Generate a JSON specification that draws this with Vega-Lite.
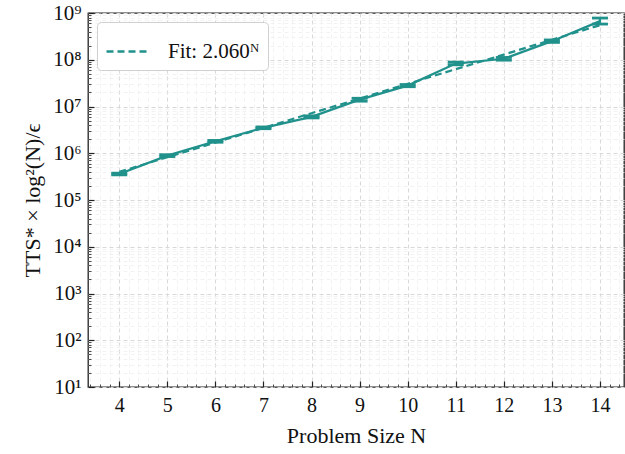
{
  "$schema": "https://vega.github.io/schema/vega-lite/v6.json",
  "autosize": "none",
  "width": 536,
  "height": 374,
  "padding": {"left": 88, "top": 13, "right": 1, "bottom": 67},
  "background": "white",
  "config": {
    "font": "Liberation Serif",
    "view": {"stroke": "#222", "strokeWidth": 1.3},
    "legend": {
      "orient": "top-left",
      "offset": 9,
      "fillColor": "white",
      "strokeColor": "#d0d0d0",
      "cornerRadius": 4,
      "padding": 8,
      "labelFont": "Liberation Serif",
      "labelFontSize": 21,
      "labelColor": "#111",
      "symbolType": "stroke",
      "symbolDash": [7, 4],
      "symbolStrokeWidth": 2.5,
      "symbolSize": 1600,
      "labelOffset": 20
    }
  },
  "data": {
    "values": [
      {"N": 4, "v": 360000, "lo": 345000, "hi": 375000, "fit": 399000},
      {"N": 5, "v": 890000, "lo": 850000, "hi": 930000, "fit": 822000},
      {"N": 6, "v": 1800000, "lo": 1720000, "hi": 1880000, "fit": 1690000},
      {"N": 7, "v": 3500000, "lo": 3350000, "hi": 3650000, "fit": 3490000},
      {"N": 8, "v": 6000000, "lo": 5700000, "hi": 6300000, "fit": 7180000},
      {"N": 9, "v": 14000000, "lo": 13000000, "hi": 15000000, "fit": 14800000},
      {"N": 10, "v": 28000000, "lo": 26500000, "hi": 29500000, "fit": 30500000},
      {"N": 11, "v": 83000000, "lo": 78000000, "hi": 89000000, "fit": 62800000},
      {"N": 12, "v": 105000000, "lo": 98000000, "hi": 112000000, "fit": 129000000},
      {"N": 13, "v": 250000000, "lo": 235000000, "hi": 265000000, "fit": 267000000},
      {"N": 14, "v": 670000000, "lo": 580000000, "hi": 780000000, "fit": 549000000}
    ]
  },
  "encoding": {
    "x": {
      "field": "N",
      "type": "quantitative",
      "scale": {"domain": [3.35, 14.5], "nice": false, "zero": false},
      "axis": {
        "title": "Problem Size N",
        "titleFont": "Liberation Serif",
        "titleFontSize": 22,
        "titleFontWeight": "normal",
        "titleColor": "#111",
        "titlePadding": 7,
        "values": [3.4,3.6,3.8,4,4.2,4.4,4.6,4.8,5,5.2,5.4,5.6,5.8,6,6.2,6.4,6.6,6.8,7,7.2,7.4,7.6,7.8,8,8.2,8.4,8.6,8.8,9,9.2,9.4,9.6,9.8,10,10.2,10.4,10.6,10.8,11,11.2,11.4,11.6,11.8,12,12.2,12.4,12.6,12.8,13,13.2,13.4,13.6,13.8,14,14.2,14.4],
        "labelExpr": "abs(datum.value - round(datum.value)) < 0.001 ? format(datum.value, 'd') : ''",
        "labelFontSize": 20,
        "labelColor": "#111",
        "labelPadding": 14,
        "labelFlush": false,
        "labelOverlap": false,
        "domain": false,
        "tickColor": "#222",
        "tickSize": {"condition": {"test": "abs(datum.value - round(datum.value)) < 0.001", "value": -6}, "value": -3},
        "tickWidth": {"condition": {"test": "abs(datum.value - round(datum.value)) < 0.001", "value": 1.2}, "value": 0.8},
        "grid": true,
        "gridDash": [4, 3],
        "gridColor": {"condition": {"test": "abs(datum.value - round(datum.value)) < 0.001", "value": "#d8d8d8"}, "value": "#efefef"},
        "gridWidth": {"condition": {"test": "abs(datum.value - round(datum.value)) < 0.001", "value": 1}, "value": 0.8}
      }
    },
    "y": {
      "type": "quantitative",
      "scale": {"type": "log", "domain": [10, 1000000000], "nice": false},
      "axis": {
        "title": "TTS* × log²(N)/ϵ",
        "titleFont": "Liberation Serif",
        "titleFontSize": 22,
        "titleFontWeight": "normal",
        "titleColor": "#111",
        "titlePadding": 8,
        "values": [10,20,30,40,50,60,70,80,90,100,200,300,400,500,600,700,800,900,1000,2000,3000,4000,5000,6000,7000,8000,9000,10000,20000,30000,40000,50000,60000,70000,80000,90000,100000,200000,300000,400000,500000,600000,700000,800000,900000,1000000,2000000,3000000,4000000,5000000,6000000,7000000,8000000,9000000,10000000,20000000,30000000,40000000,50000000,60000000,70000000,80000000,90000000,100000000,200000000,300000000,400000000,500000000,600000000,700000000,800000000,900000000,1000000000],
        "labelExpr": "abs(log(datum.value)/LN10 - round(log(datum.value)/LN10)) < 0.0001 ? '10' + substring('⁰¹²³⁴⁵⁶⁷⁸⁹', round(log(datum.value)/LN10), round(log(datum.value)/LN10) + 1) : ''",
        "labelFontSize": 21,
        "labelColor": "#111",
        "labelPadding": 13,
        "labelFlush": false,
        "labelOverlap": false,
        "domain": false,
        "tickColor": "#222",
        "tickSize": {"condition": {"test": "abs(log(datum.value)/LN10 - round(log(datum.value)/LN10)) < 0.0001", "value": -6}, "value": -3},
        "tickWidth": {"condition": {"test": "abs(log(datum.value)/LN10 - round(log(datum.value)/LN10)) < 0.0001", "value": 1.2}, "value": 0.8},
        "grid": true,
        "gridDash": [4, 3],
        "gridColor": {"condition": {"test": "abs(log(datum.value)/LN10 - round(log(datum.value)/LN10)) < 0.0001", "value": "#d8d8d8"}, "value": "#efefef"},
        "gridWidth": {"condition": {"test": "abs(log(datum.value)/LN10 - round(log(datum.value)/LN10)) < 0.0001", "value": 1}, "value": 0.8}
      }
    }
  },
  "layer": [
    {
      "mark": {"type": "line", "color": "#21918c", "strokeWidth": 2.2},
      "encoding": {"y": {"field": "v", "type": "quantitative"}}
    },
    {
      "mark": {"type": "errorbar", "color": "#21918c", "thickness": 2.2, "opacity": 1, "rule": {"opacity": 1}, "ticks": {"size": 16, "thickness": 2.8, "color": "#21918c", "opacity": 1}},
      "encoding": {
        "y": {"field": "lo", "type": "quantitative"},
        "y2": {"field": "hi"}
      }
    },
    {
      "mark": {"type": "line", "strokeWidth": 2.2, "strokeDash": [7, 4]},
      "encoding": {
        "y": {"field": "fit", "type": "quantitative"},
        "color": {"datum": "Fit: 2.060ᴺ", "type": "nominal", "scale": {"range": ["#21918c"]}, "legend": {"title": null}}
      }
    }
  ]
}
